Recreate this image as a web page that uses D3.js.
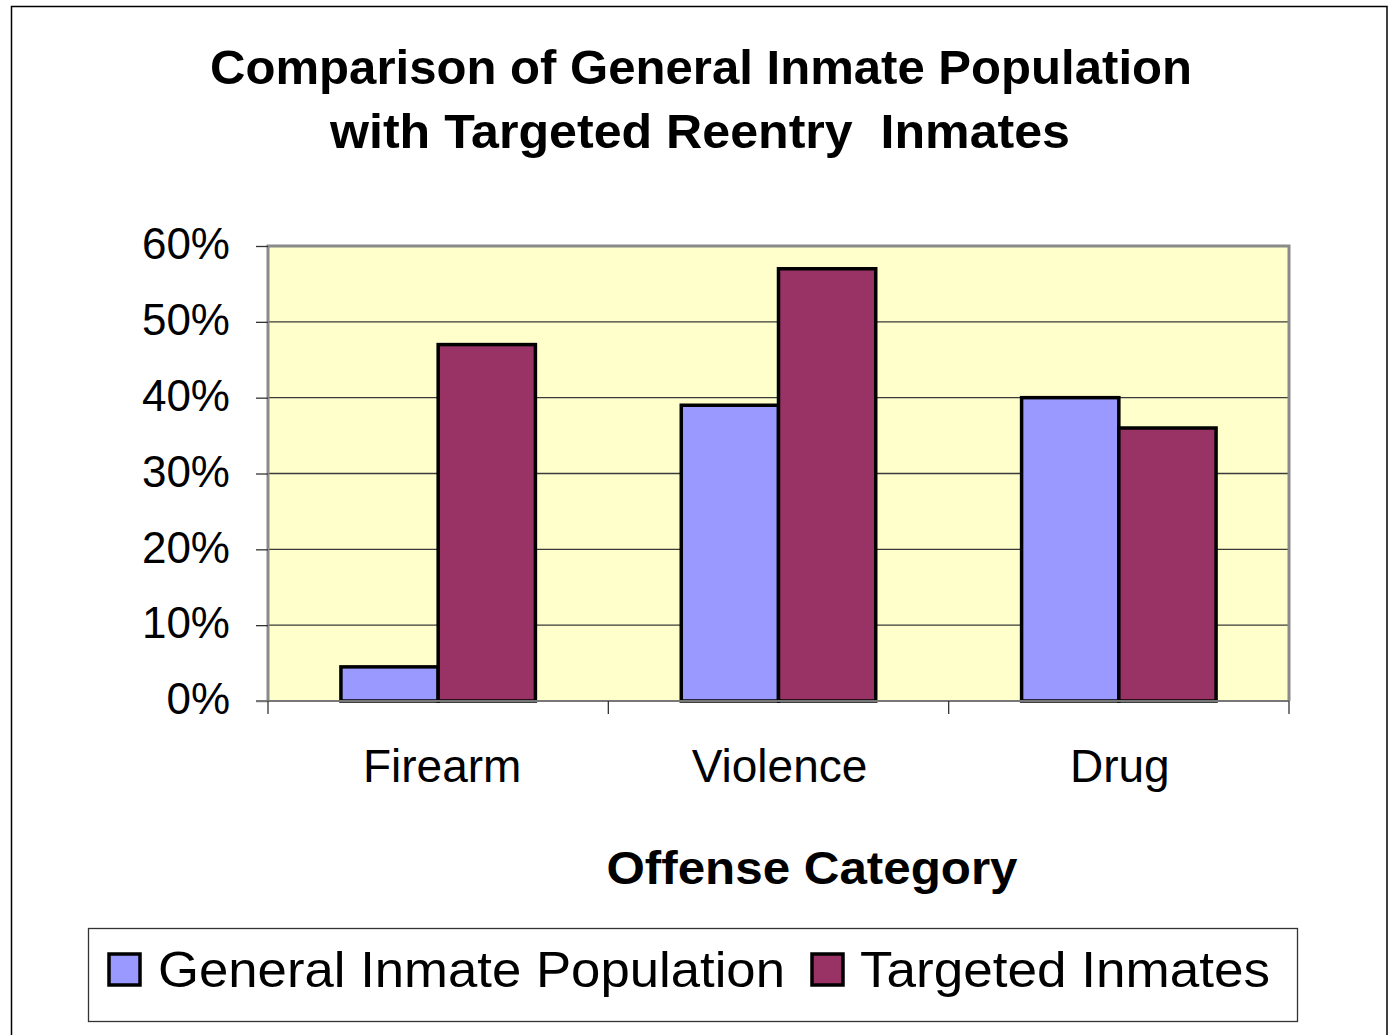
<!DOCTYPE html>
<html>
<head>
<meta charset="utf-8">
<script src="https://cdn.jsdelivr.net/npm/d3@7"></script>
<style>
  html, body { margin: 0; padding: 0; background: #ffffff; }
  svg { display: block; }
  text { font-family: Arial, "Liberation Sans", Helvetica, sans-serif; fill: #000; }
</style>
</head>
<body>
<svg id="chart" width="1389" height="1035"></svg>
<script>
// ---------- data ----------
const categories = ["Firearm", "Violence", "Drug"];
const seriesNames = ["General Inmate Population", "Targeted Inmates"];
const generalValues = [4.5, 39, 40];      // percent
const targetedValues = [47, 57, 36];      // percent
const yTickValues = [0, 10, 20, 30, 40, 50, 60];
const yTickLabels = ["0%", "10%", "20%", "30%", "40%", "50%", "60%"];
const titleLines = ["Comparison of General Inmate Population", "with Targeted Reentry  Inmates"];
const xAxisTitle = "Offense Category";
const seriesColors = ["#9999FF", "#993366"];

// ---------- layout ----------
const svg = d3.select("#chart");
const plot = { left: 268, right: 1289, top: 246, bottom: 701 };

// outer chart border
svg.append("rect")
  .attr("x", 11.5).attr("y", 6.5).attr("width", 1375.5).attr("height", 1040)
  .attr("fill", "#fff").attr("stroke", "#000").attr("stroke-width", 1.5);

// scales
const x0 = d3.scaleBand().domain(categories).range([plot.left, plot.right]).paddingInner(0).paddingOuter(0);
const x1 = d3.scaleBand().domain(seriesNames).range([0, x0.bandwidth()]).paddingInner(0).paddingOuter(0.75);
const y = d3.scaleLinear().domain([0, 60]).range([plot.bottom, plot.top]);
const color = d3.scaleOrdinal().domain(seriesNames).range(seriesColors);

// plot background
svg.append("rect")
  .attr("x", plot.left).attr("y", plot.top)
  .attr("width", plot.right - plot.left).attr("height", plot.bottom - plot.top)
  .attr("fill", "#FFFFCC");

// gridlines
svg.append("g").selectAll("line")
  .data(yTickValues.filter(v => v > 0 && v < 60))
  .join("line")
  .attr("x1", plot.left).attr("x2", plot.right)
  .attr("y1", d => y(d)).attr("y2", d => y(d))
  .attr("stroke", "#3a3a3a").attr("stroke-width", 1.3);

// plot frame (top, right, left) in grey
svg.append("path")
  .attr("d", `M${plot.left},${plot.bottom} L${plot.left},${plot.top} L${plot.right},${plot.top} L${plot.right},${plot.bottom}`)
  .attr("fill", "none").attr("stroke", "#8a8a8a").attr("stroke-width", 3);

// y axis
const yAxis = d3.axisLeft(y)
  .tickValues(yTickValues)
  .tickFormat((d, i) => yTickLabels[i])
  .tickSize(12)
  .tickPadding(26);
const gy = svg.append("g").attr("transform", `translate(${plot.left},0)`).call(yAxis);
gy.select(".domain").remove();
gy.selectAll(".tick line").attr("stroke", "#333").attr("stroke-width", 1.3);
gy.selectAll(".tick text")
  .attr("font-size", 44).attr("font-family", "Arial, 'Liberation Sans', sans-serif")
  .attr("fill", "#000").attr("dy", "0.29em");

// bars
const rows = categories.map((c, i) => ({ category: c, values: [generalValues[i], targetedValues[i]] }));
const groups = svg.append("g").selectAll("g")
  .data(rows)
  .join("g")
  .attr("transform", d => `translate(${x0(d.category)},0)`);
groups.selectAll("rect")
  .data(d => seriesNames.map((s, j) => ({ series: s, value: d.values[j] })))
  .join("rect")
  .attr("x", d => x1(d.series))
  .attr("width", x1.bandwidth())
  .attr("y", d => y(d.value))
  .attr("height", d => y(0) - y(d.value))
  .attr("fill", d => color(d.series))
  .attr("stroke", "#000").attr("stroke-width", 3.5).attr("stroke-linejoin", "miter");

// x axis line
svg.append("line")
  .attr("x1", plot.left - 12).attr("x2", plot.right)
  .attr("y1", plot.bottom).attr("y2", plot.bottom)
  .attr("stroke", "#777").attr("stroke-width", 2);

// x ticks at category boundaries
const boundaries = categories.map(c => x0(c)).concat([x0.range()[1]]);
svg.append("g").selectAll("line")
  .data(boundaries)
  .join("line")
  .attr("x1", d => d).attr("x2", d => d)
  .attr("y1", plot.bottom).attr("y2", plot.bottom + 13)
  .attr("stroke", "#333").attr("stroke-width", 1.3);

// x category labels
svg.append("g").selectAll("text")
  .data(categories)
  .join("text")
  .attr("x", (d, i) => x0(d) + x0.bandwidth() / 2 + (i === 0 ? 4 : 1))
  .attr("y", 782)
  .attr("text-anchor", "middle")
  .attr("font-size", 46)
  .text(d => d);

// title
const titleSpec = [{ y: 84, len: 982 }, { y: 148, len: 740 }];
svg.append("g").selectAll("text")
  .data(titleLines)
  .join("text")
  .attr("x", (d, i) => i === 0 ? 701 : 700)
  .attr("y", (d, i) => titleSpec[i].y)
  .attr("text-anchor", "middle")
  .attr("font-size", 48).attr("font-weight", "bold")
  .attr("textLength", (d, i) => titleSpec[i].len)
  .attr("lengthAdjust", "spacingAndGlyphs")
  .style("white-space", "pre")
  .text(d => d);

// x axis title
svg.append("text")
  .attr("x", 812).attr("y", 884)
  .attr("text-anchor", "middle")
  .attr("font-size", 46).attr("font-weight", "bold")
  .attr("textLength", 411).attr("lengthAdjust", "spacingAndGlyphs")
  .text(xAxisTitle);

// legend
const legend = svg.append("g");
legend.append("rect")
  .attr("x", 88.5).attr("y", 928.5).attr("width", 1209).attr("height", 93)
  .attr("fill", "#fff").attr("stroke", "#333").attr("stroke-width", 1.3);
const legendItems = [
  { name: seriesNames[0], sx: 109, tx: 158, len: 627 },
  { name: seriesNames[1], sx: 812, tx: 860, len: 410 }
];
legend.selectAll("rect.sw")
  .data(legendItems)
  .join("rect")
  .attr("class", "sw")
  .attr("x", d => d.sx).attr("y", 954).attr("width", 31).attr("height", 31)
  .attr("fill", d => color(d.name))
  .attr("stroke", "#000").attr("stroke-width", 3.5);
legend.selectAll("text")
  .data(legendItems)
  .join("text")
  .attr("x", d => d.tx).attr("y", 987)
  .attr("font-size", 50)
  .attr("textLength", d => d.len).attr("lengthAdjust", "spacingAndGlyphs")
  .text(d => d.name);
</script>
</body>
</html>
